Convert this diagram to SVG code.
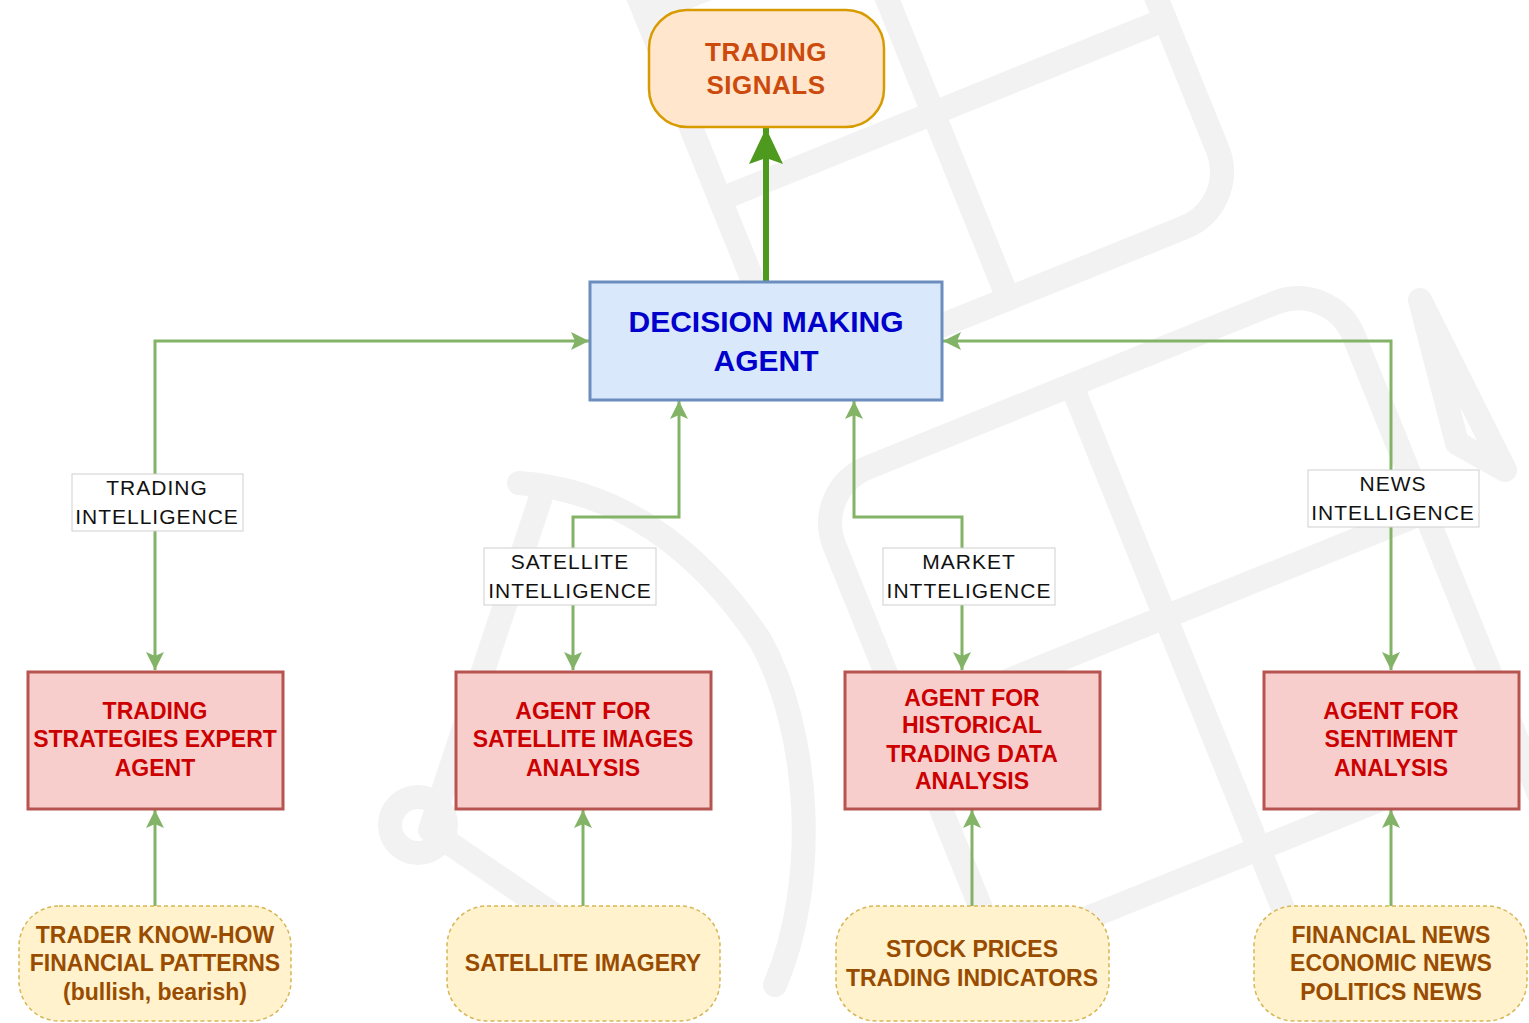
<svg xmlns="http://www.w3.org/2000/svg" width="1529" height="1023" viewBox="0 0 1529 1023">
<style>
.wm{fill:none;stroke:#f2f2f2;stroke-width:24;stroke-linecap:round;stroke-linejoin:round}
.con{fill:none;stroke:#82b366;stroke-width:3}
.lbl rect{fill:#ffffff;stroke:#cfcfcf;stroke-width:1}
.lbl text{font-family:"Liberation Sans",Arial,sans-serif;font-size:21px;fill:#111;text-anchor:middle;letter-spacing:1px}
.red rect{fill:#f8cecc;stroke:#b85450;stroke-width:3}
.red text{font-family:"Liberation Sans",Arial,sans-serif;font-size:23px;font-weight:bold;fill:#cc0000;text-anchor:middle}
.yel rect{fill:#fff2cc;stroke:#d6b656;stroke-width:1.5;stroke-dasharray:4 3}
.yel text{font-family:"Liberation Sans",Arial,sans-serif;font-size:23px;font-weight:bold;fill:#994c00;text-anchor:middle}
</style>
<defs>
<marker id="ah" markerUnits="userSpaceOnUse" markerWidth="20" markerHeight="18" refX="18" refY="9" orient="auto-start-reverse">
<path d="M0,0 L18,9 L0,18 L4,9 Z" fill="#82b366"/>
</marker>
<marker id="ahBig" markerUnits="userSpaceOnUse" markerWidth="38" markerHeight="34" refX="36" refY="17" orient="auto">
<path d="M0,0 L36,17 L0,34 L6,17 Z" fill="#4d9a1f"/>
</marker>
</defs>
<rect width="1529" height="1023" fill="#ffffff"/>
<g id="watermark">
<g transform="translate(1240,205) rotate(-22)">
<rect class="wm" x="-480" y="-620" width="480" height="620" rx="60"/>
<line class="wm" x1="-250" y1="0" x2="-250" y2="-620"/>
<line class="wm" x1="-480" y1="-200" x2="0" y2="-200"/>
<line class="wm" x1="-480" y1="-400" x2="0" y2="-400"/>
</g>
<g transform="translate(812,490) rotate(-22)">
<rect class="wm" x="0" y="0" width="560" height="900" rx="60"/>
<line class="wm" x1="280" y1="0" x2="280" y2="900"/>
<line class="wm" x1="0" y1="250" x2="560" y2="250"/>
<line class="wm" x1="0" y1="500" x2="560" y2="500"/>
</g>
<path class="wm" d="M1420,300 L1505,470 L1457,443 Z"/>
<path class="wm" d="M519,483 C620,490 700,550 760,640 C810,730 820,880 775,985"/>
<path class="wm" d="M540,500 L430,830 L620,960"/>
<circle class="wm" cx="418" cy="825" r="28"/>
</g>
<g id="connectors">
<path class="con" d="M155,670 V341 H589" marker-start="url(#ah)" marker-end="url(#ah)"/>
<path class="con" d="M573,670 V517 H679 V401" marker-start="url(#ah)" marker-end="url(#ah)"/>
<path class="con" d="M962,670 V517 H854 V401" marker-start="url(#ah)" marker-end="url(#ah)"/>
<path class="con" d="M1391,670 V341 H943" marker-start="url(#ah)" marker-end="url(#ah)"/>
<path class="con" d="M155,906 V810" marker-end="url(#ah)"/>
<path class="con" d="M583,906 V810" marker-end="url(#ah)"/>
<path class="con" d="M972,906 V810" marker-end="url(#ah)"/>
<path class="con" d="M1391,906 V810" marker-end="url(#ah)"/>
<path d="M766,281 V128" fill="none" stroke="#4d9a1f" stroke-width="6" marker-end="url(#ahBig)"/>
<g class="lbl">
<rect x="72" y="474" width="171" height="57"/>
<text x="157" y="495">TRADING</text>
<text x="157" y="524">INTELLIGENCE</text>
<rect x="484" y="548" width="172" height="57"/>
<text x="570" y="569">SATELLITE</text>
<text x="570" y="598">INTELLIGENCE</text>
<rect x="883" y="548" width="172" height="57"/>
<text x="969" y="569">MARKET</text>
<text x="969" y="598">INTTELIGENCE</text>
<rect x="1308" y="470" width="171" height="57"/>
<text x="1393" y="491">NEWS</text>
<text x="1393" y="520">INTELLIGENCE</text>
</g>
</g>
<g id="trading-signals">
<rect x="649" y="10" width="235" height="117" rx="38" fill="#ffe6cc" stroke="#d79b00" stroke-width="2.5"/>
<text x="766" y="61" font-family="Liberation Sans, Arial, sans-serif" font-size="26" font-weight="bold" fill="#cc4b0c" text-anchor="middle" letter-spacing="0.5">TRADING</text>
<text x="766" y="94" font-family="Liberation Sans, Arial, sans-serif" font-size="26" font-weight="bold" fill="#cc4b0c" text-anchor="middle" letter-spacing="0.5">SIGNALS</text>
</g>
<g id="decision-agent">
<rect x="590" y="282" width="352" height="118" fill="#dae8fc" stroke="#6c8ebf" stroke-width="3"/>
<text x="766" y="332" font-family="Liberation Sans, Arial, sans-serif" font-size="30" font-weight="bold" fill="#0000cc" text-anchor="middle">DECISION MAKING</text>
<text x="766" y="371" font-family="Liberation Sans, Arial, sans-serif" font-size="30" font-weight="bold" fill="#0000cc" text-anchor="middle">AGENT</text>
</g>
<g id="trading-strategies-agent" class="red">
<rect x="28" y="672" width="255" height="137"/>
<text x="155" y="719">TRADING</text>
<text x="155" y="747">STRATEGIES EXPERT</text>
<text x="155" y="776">AGENT</text>
</g>
<g id="satellite-agent" class="red">
<rect x="456" y="672" width="255" height="137"/>
<text x="583" y="719">AGENT FOR</text>
<text x="583" y="747">SATELLITE IMAGES</text>
<text x="583" y="776">ANALYSIS</text>
</g>
<g id="historical-agent" class="red">
<rect x="845" y="672" width="255" height="137"/>
<text x="972" y="706">AGENT FOR</text>
<text x="972" y="733">HISTORICAL</text>
<text x="972" y="762">TRADING DATA</text>
<text x="972" y="789">ANALYSIS</text>
</g>
<g id="sentiment-agent" class="red">
<rect x="1264" y="672" width="255" height="137"/>
<text x="1391" y="719">AGENT FOR</text>
<text x="1391" y="747">SENTIMENT</text>
<text x="1391" y="776">ANALYSIS</text>
</g>
<g id="trader-knowhow" class="yel">
<rect x="19" y="906" width="272" height="115" rx="40"/>
<text x="155" y="943">TRADER KNOW-HOW</text>
<text x="155" y="971">FINANCIAL PATTERNS</text>
<text x="155" y="1000">(bullish, bearish)</text>
</g>
<g id="satellite-imagery" class="yel">
<rect x="447" y="906" width="273" height="115" rx="40"/>
<text x="583" y="971">SATELLITE IMAGERY</text>
</g>
<g id="stock-prices" class="yel">
<rect x="836" y="906" width="273" height="115" rx="40"/>
<text x="972" y="957">STOCK PRICES</text>
<text x="972" y="986">TRADING INDICATORS</text>
</g>
<g id="news-sources" class="yel">
<rect x="1254" y="906" width="273" height="115" rx="40"/>
<text x="1391" y="943">FINANCIAL NEWS</text>
<text x="1391" y="971">ECONOMIC NEWS</text>
<text x="1391" y="1000">POLITICS NEWS</text>
</g>
</svg>
